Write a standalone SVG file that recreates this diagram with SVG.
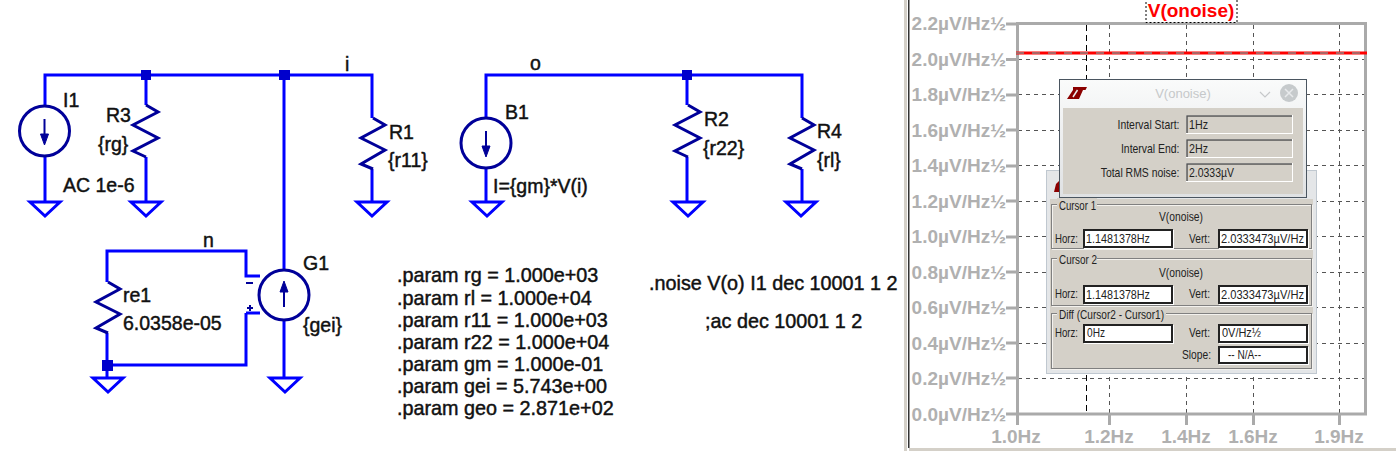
<svg xmlns="http://www.w3.org/2000/svg" width="1396" height="451" viewBox="0 0 1396 451">
<style>
text{font-family:"Liberation Sans",Arial,sans-serif}
.w{fill:none;stroke:#0000ff;stroke-width:3;stroke-linejoin:miter}
.c{fill:none;stroke:#000099;stroke-width:3}
.j{fill:#0000cc}
.t{font-size:19.5px;fill:#111;stroke:#111;stroke-width:.45}
.p{font-size:19.8px;fill:#111;stroke:#111;stroke-width:.45}
.gy{font-size:19px;font-weight:bold;fill:#b0b0b0;text-anchor:end}
.gx{font-size:19px;font-weight:bold;fill:#b0b0b0;text-anchor:middle}
.grid{stroke:#555;stroke-width:1;stroke-dasharray:4 4;fill:none}
.tick{stroke:#aaa;stroke-width:3;fill:none}
.d{font-size:12.5px;fill:#222}
.e{text-anchor:end}
.fw{fill:#fff;stroke:#222;stroke-width:2}
.fs{fill:#fff}
.g{fill:none;stroke:#808080;stroke-width:1}
.gl{fill:none;stroke:#f4f2ee;stroke-width:1}
.lb{fill:#d4d0c8}
</style>
<defs>
<g id="gnd"><path d="M-15 0H15L0 14Z" class="w"/></g>
<g id="res"><path d="M0 0L12 7L-13 20L12 33L-13 46L0 52" class="c"/></g>
<g id="res2"><path d="M0 0L12 7L-12 20L12 32L-12 46L0 51" class="c"/></g>
<g id="src"><circle r="25" class="c"/><path d="M0 -12V8" stroke="#000099" stroke-width="2" fill="none"/><path d="M-4 3H4L0 14Z" fill="#000099" stroke="#000099"/></g>
<linearGradient id="tb" x1="0" y1="0" x2="0" y2="1"><stop offset="0" stop-color="#fafbfb"/><stop offset="1" stop-color="#dfe1e3"/></linearGradient>
</defs>
<rect width="1396" height="451" fill="#fff"/>

<g id="connectors">
<path class="w" d="M45 106V75H372V118M372 169V202M45 156V202M146 75V105M146 157V202M284 75V270M284 320V378"/>
<path class="w" d="M486 118V75H802V118M802 169V202M486 168V202M687 75V105M687 157V202"/>
<path class="w" d="M107 282V251H246V276H260M246 313H260M246 313V365H107M107 333V378"/>
<rect class="j" x="141" y="70" width="10" height="10"/>
<rect class="j" x="279" y="70" width="11" height="10"/>
<rect class="j" x="682" y="70" width="10" height="10"/>
<rect class="j" x="102" y="360" width="11" height="11"/>
</g>

<g id="I1"><use href="#src" x="44.500" y="131"/><text class="t" x="63" y="107">I1</text><text class="t" x="63" y="192">AC 1e-6</text><use href="#gnd" x="45" y="202"/></g>
<g id="R3"><use href="#res" x="146" y="105"/><text class="t" x="106" y="122">R3</text><text class="t" x="98" y="151">{rg}</text><use href="#gnd" x="146" y="202"/></g>
<g id="R1"><use href="#res2" x="373" y="118"/><text class="t" x="389" y="139">R1</text><text class="t" x="388" y="167">{r11}</text><use href="#gnd" x="372" y="202"/></g>
<g id="G1"><g transform="translate(284 295) rotate(180)"><use href="#src"/></g><text class="t" x="303" y="270">G1</text><text class="t" x="303" y="332">{gei}</text><use href="#gnd" x="285" y="378"/>
<path d="M246 283H253M250 305V311M247 308H253" stroke="#000099" stroke-width="2" fill="none"/></g>
<g id="re1"><use href="#res2" x="108" y="282"/><text class="t" x="123" y="302">re1</text><text class="t" x="123" y="330">6.0358e-05</text><use href="#gnd" x="108" y="378"/></g>
<g id="B1"><use href="#src" x="486" y="143"/><text class="t" x="505" y="119">B1</text><text class="t" x="493" y="193">I={gm}*V(i)</text><use href="#gnd" x="487" y="202"/></g>
<g id="R2"><use href="#res" x="688" y="105"/><text class="t" x="704" y="126">R2</text><text class="t" x="703" y="155">{r22}</text><use href="#gnd" x="688" y="202"/></g>
<g id="R4"><use href="#res2" x="802" y="118"/><text class="t" x="817" y="138">R4</text><text class="t" x="817" y="167">{rl}</text><use href="#gnd" x="801" y="202"/></g>

<g id="labels">
<text class="t" x="345" y="71">i</text>
<text class="t" x="530" y="70">o</text>
<text class="t" x="203" y="247">n</text>
<text class="p" x="397" y="282">.param rg = 1.000e+03</text>
<text class="p" x="397" y="305">.param rl = 1.000e+04</text>
<text class="p" x="397" y="327">.param r11 = 1.000e+03</text>
<text class="p" x="397" y="349">.param r22 = 1.000e+04</text>
<text class="p" x="397" y="371">.param gm = 1.000e-01</text>
<text class="p" x="397" y="393">.param gei = 5.743e+00</text>
<text class="p" x="397" y="415">.param geo = 2.871e+02</text>
<text class="p" x="649" y="290">.noise V(o) I1 dec 10001 1 2</text>
<text class="p" x="705" y="328">;ac dec 10001 1 2</text>
</g>

<g id="plot">
<rect x="904" y="0" width="3" height="451" fill="#d4d0c8"/>
<rect x="908" y="0" width="1.500" height="448" fill="#333"/>
<rect x="909" y="448" width="487" height="3" fill="#d4d0c8"/>
<path class="grid" d="M1018 59.500H1365M1018 94.500H1365M1018 130.500H1365M1018 165.500H1365M1018 201.500H1365M1018 236.500H1365M1018 272.500H1365M1018 307.500H1365M1018 343.500H1365M1018 378.500H1365"/>
<path class="grid" d="M1109.500 25V413M1186.500 25V413M1253.500 25V413M1339.500 25V413"/>
<path d="M1086.500 25V413" stroke="#000" stroke-width="1" stroke-dasharray="6 4" fill="none"/>
<rect x="1017.500" y="23.500" width="348" height="390.500" fill="none" stroke="#aaa" stroke-width="3"/>
<path class="tick" d="M1006 24H1017M1006 59.500H1017M1006 95H1017M1006 130H1017M1006 166H1017M1006 201H1017M1006 237H1017M1006 272H1017M1006 308H1017M1006 343H1017M1006 378H1017M1006 414H1017M1017.500 414V425M1109.500 414V425M1186.500 414V425M1253.500 414V425M1339.500 414V425"/>
<path d="M1016 53H1367" stroke="#f00" stroke-width="3"/>
<path d="M1016 53H1367" stroke="#55cccc" stroke-width="1" stroke-dasharray="8 8"/>
<text class="gy" x="1006" y="30">2.2µV/Hz½</text>
<text class="gy" x="1006" y="66">2.0µV/Hz½</text>
<text class="gy" x="1006" y="101">1.8µV/Hz½</text>
<text class="gy" x="1006" y="137">1.6µV/Hz½</text>
<text class="gy" x="1006" y="172">1.4µV/Hz½</text>
<text class="gy" x="1006" y="208">1.2µV/Hz½</text>
<text class="gy" x="1006" y="243">1.0µV/Hz½</text>
<text class="gy" x="1006" y="279">0.8µV/Hz½</text>
<text class="gy" x="1006" y="314">0.6µV/Hz½</text>
<text class="gy" x="1006" y="350">0.4µV/Hz½</text>
<text class="gy" x="1006" y="385">0.2µV/Hz½</text>
<text class="gy" x="1006" y="421">0.0µV/Hz½</text>
<text class="gx" x="1016" y="443">1.0Hz</text>
<text class="gx" x="1109" y="443">1.2Hz</text>
<text class="gx" x="1186" y="443">1.4Hz</text>
<text class="gx" x="1253" y="443">1.6Hz</text>
<text class="gx" x="1339" y="443">1.9Hz</text>
<rect x="1146" y="-1" width="91" height="23.500" fill="#fff" stroke="#000" stroke-dasharray="2 2"/>
<text x="1191" y="17" font-size="19" font-weight="bold" fill="#f00" text-anchor="middle">V(onoise)</text>
</g>

<g id="cursor-dialog">
<rect x="1046.500" y="170.500" width="270" height="203" fill="#e4e6e8" stroke="#c0c8d0"/>
<rect x="1050" y="199" width="263" height="170" fill="#d4d0c8"/>
<path d="M1056 184L1060 180V192H1054Z" fill="#8b0000"/>
<rect class="gl" x="1052.500" y="205.500" width="260" height="44"/><rect class="g" x="1051.500" y="204.500" width="260" height="44"/>
<rect class="lb" x="1050" y="251" width="263" height="5"/>
<rect class="gl" x="1052.500" y="259.500" width="260" height="47"/><rect class="g" x="1051.500" y="258.500" width="260" height="47"/>
<rect class="gl" x="1052.500" y="314.500" width="260" height="55"/><rect class="g" x="1051.500" y="313.500" width="260" height="55"/>
<rect class="lb" x="1057" y="198" width="40" height="12"/><text class="d" x="1059" y="210" textLength="37" lengthAdjust="spacingAndGlyphs">Cursor 1</text>
<rect class="lb" x="1057" y="252" width="40" height="12"/><text class="d" x="1059" y="264" textLength="38" lengthAdjust="spacingAndGlyphs">Cursor 2</text>
<rect class="lb" x="1057" y="307" width="109" height="12"/><text class="d" x="1059" y="319" textLength="105" lengthAdjust="spacingAndGlyphs">Diff (Cursor2 - Cursor1)</text>
<text class="d" x="1159" y="221" textLength="44" lengthAdjust="spacingAndGlyphs">V(onoise)</text>
<text class="d" x="1159" y="277" textLength="44" lengthAdjust="spacingAndGlyphs">V(onoise)</text>
<text class="d" x="1055" y="243" textLength="23" lengthAdjust="spacingAndGlyphs">Horz:</text><rect class="fs" x="1084" y="230" width="90" height="19"/><rect class="fw" x="1084" y="230" width="88" height="17"/><text class="d" x="1086" y="243" textLength="64" lengthAdjust="spacingAndGlyphs">1.1481378Hz</text>
<text class="d" x="1189" y="243" textLength="21" lengthAdjust="spacingAndGlyphs">Vert:</text><rect class="fs" x="1219" y="230" width="90" height="19"/><rect class="fw" x="1219" y="230" width="88" height="17"/><text class="d" x="1221" y="243" textLength="83" lengthAdjust="spacingAndGlyphs">2.0333473µV/Hz</text>
<text class="d" x="1055" y="298" textLength="23" lengthAdjust="spacingAndGlyphs">Horz:</text><rect class="fs" x="1084" y="286" width="90" height="19"/><rect class="fw" x="1084" y="286" width="88" height="17"/><text class="d" x="1086" y="299" textLength="64" lengthAdjust="spacingAndGlyphs">1.1481378Hz</text>
<text class="d" x="1189" y="298" textLength="21" lengthAdjust="spacingAndGlyphs">Vert:</text><rect class="fs" x="1219" y="286" width="90" height="19"/><rect class="fw" x="1219" y="286" width="88" height="17"/><text class="d" x="1221" y="299" textLength="83" lengthAdjust="spacingAndGlyphs">2.0333473µV/Hz</text>
<text class="d" x="1055" y="337" textLength="23" lengthAdjust="spacingAndGlyphs">Horz:</text><rect class="fs" x="1084" y="325" width="90" height="19"/><rect class="fw" x="1084" y="325" width="88" height="17"/><text class="d" x="1087" y="337" textLength="18" lengthAdjust="spacingAndGlyphs">0Hz</text>
<text class="d" x="1189" y="337" textLength="21" lengthAdjust="spacingAndGlyphs">Vert:</text><rect class="fs" x="1219" y="325" width="90" height="19"/><rect class="fw" x="1219" y="325" width="88" height="17"/><text class="d" x="1222" y="337" textLength="39" lengthAdjust="spacingAndGlyphs">0V/Hz½</text>
<text class="d" x="1182" y="359" textLength="29" lengthAdjust="spacingAndGlyphs">Slope:</text><rect class="fs" x="1219" y="347" width="90" height="18"/><rect class="fw" x="1219" y="347" width="88" height="16"/><text class="d" x="1228" y="359" textLength="33" lengthAdjust="spacingAndGlyphs">-- N/A--</text>
</g>

<g id="noise-dialog">
<rect x="1059.500" y="79.500" width="247" height="118" fill="url(#tb)" stroke="#4a5560"/>
<rect x="1063" y="108" width="240" height="86" fill="#d4d0c8"/>
<path d="M1073 87H1087L1085.500 90H1083L1079 99H1067L1073 90Z" fill="#8b0000"/>
<path d="M1077.500 90L1073 97" stroke="#eceeef" stroke-width="1.500" fill="none"/>
<text x="1183" y="98" font-size="13" fill="#c6c8ca" text-anchor="middle">V(onoise)</text>
<path d="M1260 92L1265 97L1270 92" fill="none" stroke="#c6c8ca" stroke-width="1.200"/>
<circle cx="1289" cy="93" r="9" fill="#c6cacc"/>
<path d="M1285 89L1293 97M1293 89L1285 97" stroke="#e8eaec" stroke-width="1.500"/>
<text class="d e" transform="translate(1179.500 129) scale(.835 1)">Interval Start:</text>
<text class="d e" transform="translate(1179.500 153) scale(.835 1)">Interval End:</text>
<text class="d e" transform="translate(1179.500 177) scale(.835 1)">Total RMS noise:</text>
<rect x="1186.500" y="115.500" width="106" height="18" fill="#d4d0c8" stroke="#fff"/><path d="M1187 133V116H1292" fill="none" stroke="#555" stroke-width="1.500"/><text class="d" x="1189" y="129" textLength="19" lengthAdjust="spacingAndGlyphs">1Hz</text>
<rect x="1186.500" y="139.500" width="106" height="18" fill="#d4d0c8" stroke="#fff"/><path d="M1187 157V140H1292" fill="none" stroke="#555" stroke-width="1.500"/><text class="d" x="1189" y="153" textLength="19" lengthAdjust="spacingAndGlyphs">2Hz</text>
<rect x="1186.500" y="163.500" width="106" height="18" fill="#d4d0c8" stroke="#fff"/><path d="M1187 181V164H1292" fill="none" stroke="#555" stroke-width="1.500"/><text class="d" x="1189" y="177" textLength="45" lengthAdjust="spacingAndGlyphs">2.0333µV</text>
</g>
</svg>
